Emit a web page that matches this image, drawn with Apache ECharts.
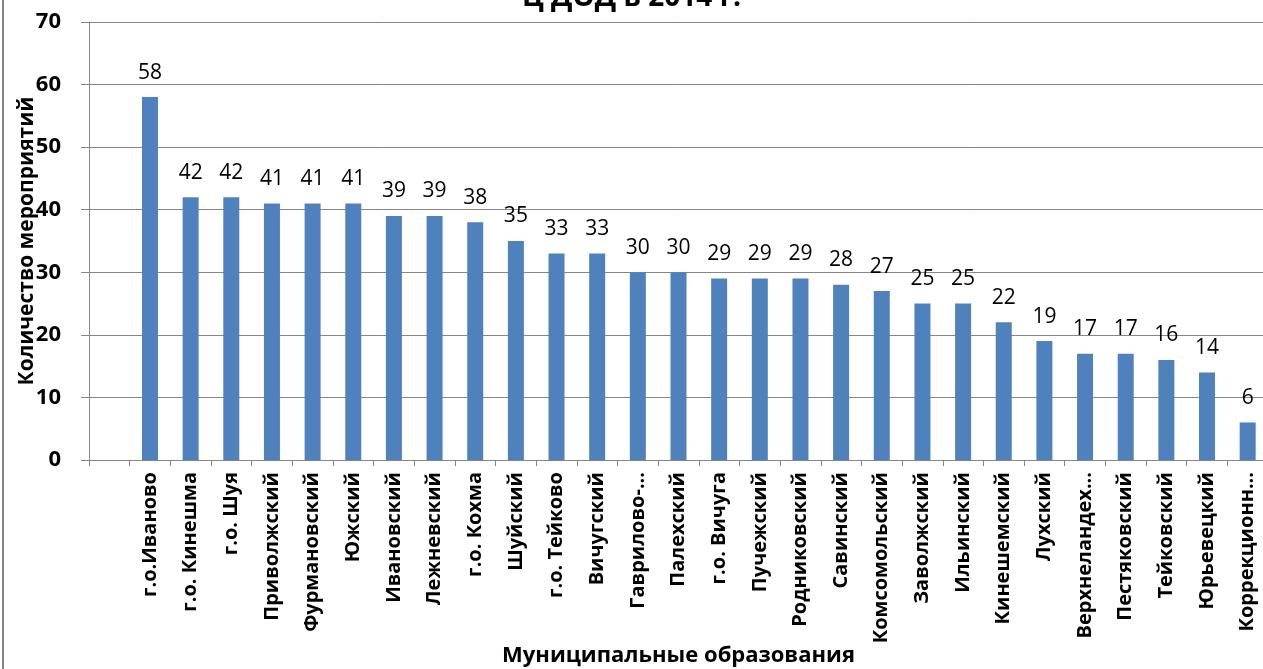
<!DOCTYPE html>
<html>
<head>
<meta charset="utf-8">
<script src="https://cdn.jsdelivr.net/npm/echarts@6/dist/echarts.min.js"></script>
<style>
html,body{margin:0;padding:0;background:#fff;}
#chart{width:1263px;height:669px;}
</style>
</head>
<body>
<div id="chart"></div>
<script>
const titleText = 'Ц ДОД в 2014 г.';
const xAxisTitle = 'Муниципальные образования';
const yAxisTitle = 'Количество мероприятий';
const categories = ['г.о.Иваново','г.о. Кинешма','г.о. Шуя','Приволжский','Фурмановский','Южский','Ивановский','Лежневский','г.о. Кохма','Шуйский','г.о. Тейково','Вичугский','Гаврилово-...','Палехский','г.о. Вичуга','Пучежский','Родниковский','Савинский','Комсомольский','Заволжский','Ильинский','Кинешемский','Лухский','Верхнеландех...','Пестяковский','Тейковский','Юрьевецкий','Коррекционн...'];
const values = [58,42,42,41,41,41,39,39,38,35,33,33,30,30,29,29,29,28,27,25,25,22,19,17,17,16,14,6];
const yTicks = [0,10,20,30,40,50,60,70];

const FONT = '"Open Sans", "Noto Sans", sans-serif';
const chart = echarts.init(document.getElementById('chart'));
chart.setOption({
  animation: false,
  backgroundColor: '#fff',
  title: {
    text: titleText,
    left: 'center',
    top: -21,
    textStyle: {fontFamily: FONT, fontSize: 28, fontWeight: 'bold', color: '#000'}
  },
  graphic: [{
    type: 'rect', shape: {x: 3, y: -10, width: 1400, height: 700},
    style: {fill: 'none', stroke: '#868686', lineWidth: 2}, z: 100
  }],
  grid: {left: 89, right: -5, top: 22, bottom: 209, containLabel: false, outerBoundsMode: 'none'},
  xAxis: {
    type: 'category',
    data: [''].concat(categories),
    name: xAxisTitle,
    nameLocation: 'middle',
    nameMoveOverlap: false,
    nameGap: 185,
    nameTextStyle: {fontFamily: FONT, fontSize: 22, fontWeight: 'bold', color: '#000'},
    axisLine: {lineStyle: {color: '#868686', width: 1}},
    axisTick: {show: true, alignWithLabel: false, length: 6, lineStyle: {color: '#868686'}},
    axisLabel: {interval: 0, rotate: 90, margin: 12, fontFamily: FONT, fontSize: 20, fontWeight: 'bold', color: '#000'}
  },
  yAxis: {
    type: 'value',
    min: 0, max: 70, interval: 10,
    name: yAxisTitle,
    nameLocation: 'middle',
    nameMoveOverlap: false,
    nameRotate: 90,
    nameGap: 51,
    nameTextStyle: {fontFamily: FONT, fontSize: 21, fontWeight: 'bold', color: '#000'},
    axisLine: {show: true, lineStyle: {color: '#868686', width: 1}},
    axisTick: {show: true, inside: false, length: 8, lineStyle: {color: '#868686'}},
    splitLine: {lineStyle: {color: '#868686', width: 1}},
    axisLabel: {margin: 28, fontFamily: FONT, fontSize: 22, fontWeight: 'bold', color: '#000',
      formatter: v => yTicks.includes(v) ? String(v) : ''}
  },
  series: [{
    type: 'bar',
    data: [null].concat(values),
    barWidth: 16,
    itemStyle: {color: '#4F81BD'},
    label: {show: true, position: 'top', distance: 14, fontFamily: FONT, fontSize: 21, color: '#000'}
  }]
});
</script>
</body>
</html>
